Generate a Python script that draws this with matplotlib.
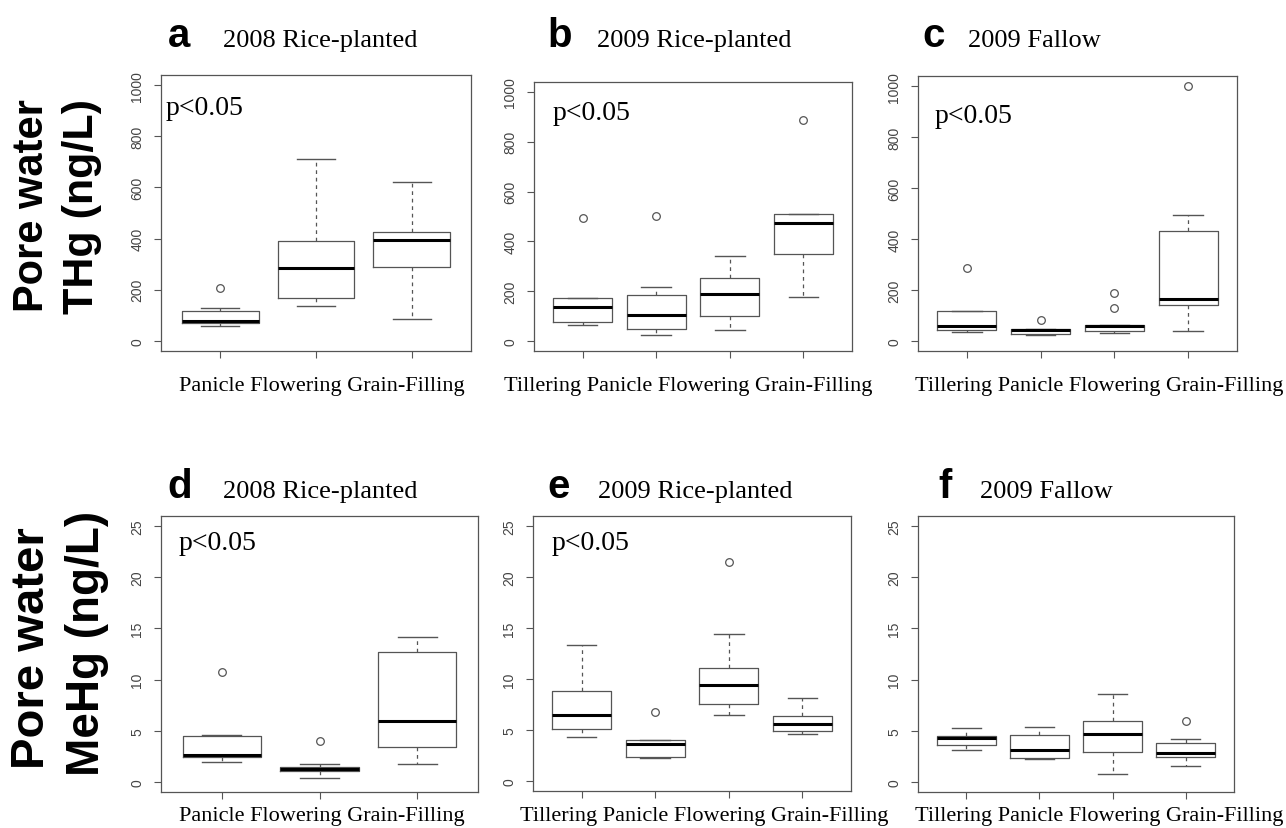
import matplotlib.pyplot as plt

W, H = 1286, 829

stages3 = ['Panicle', 'Flowering', 'Grain-Filling']
stages4 = ['Tillering', 'Panicle', 'Flowering', 'Grain-Filling']

# pore water THg (ng/L)
a_lo = [56, 137, 85]
a_q1 = [69, 167, 288]
a_med = [78, 286, 395]
a_q3 = [118, 392, 427]
a_hi = [130, 710, 620]
a_out = [[206], [], []]

b_lo = [66, 24, 43, 176]
b_q1 = [78, 47, 99, 350]
b_med = [138, 105, 188, 475]
b_q3 = [173, 184, 255, 509]
b_hi = [173, 215, 340, 509]
b_out = [[494], [501], [], [886]]

c_lo = [35, 21, 29, 38]
c_q1 = [43, 27, 40, 141]
c_med = [60, 43, 60, 164]
c_q3 = [116, 48, 62, 431]
c_hi = [116, 48, 62, 496]
c_out = [[286], [82], [130, 188], [1000]]

# pore water MeHg (ng/L)
d_lo = [1.95, 0.36, 1.76]
d_q1 = [2.38, 1.04, 3.45]
d_med = [2.64, 1.24, 5.92]
d_q3 = [4.49, 1.40, 12.73]
d_hi = [4.62, 1.73, 14.16]
d_out = [[10.74], [3.97], []]

e_lo = [4.33, 2.28, 6.51, 4.59]
e_q1 = [5.05, 2.31, 7.58, 4.88]
e_med = [6.51, 3.58, 9.38, 5.53]
e_q3 = [8.82, 4.00, 11.10, 6.35]
e_hi = [13.38, 4.00, 14.45, 8.14]
e_out = [[], [6.71], [21.52], []]

f_lo = [3.09, 2.21, 0.75, 1.56]
f_q1 = [3.61, 2.34, 2.93, 2.44]
f_med = [4.30, 3.09, 4.66, 2.86]
f_q3 = [4.46, 4.56, 5.96, 3.78]
f_hi = [5.24, 5.31, 8.63, 4.23]
f_out = [[], [], [], [5.99]]

serif = 'Liberation Serif'
sans = 'Liberation Sans'


def make_stats(lo, q1, med, q3, hi, out):
    return [dict(whislo=lo[i], q1=q1[i], med=med[i], q3=q3[i], whishi=hi[i], fliers=out[i])
            for i in range(len(lo))]


def frac(x, y):
    return x / W, 1 - y / H


fig = plt.figure(figsize=(W / 100, H / 100), dpi=100)

# pixel boxes: left, right, top, bottom
panels = [
    ('a', '2008 Rice-planted', (161, 471, 76, 352), stages3, make_stats(a_lo, a_q1, a_med, a_q3, a_hi, a_out),
     1000, (168, 223, 47), (0.016, 0.859), 322, 387),
    ('b', '2009 Rice-planted', (534, 852, 83, 352), stages4, make_stats(b_lo, b_q1, b_med, b_q3, b_hi, b_out),
     1000, (547, 597, 47), (0.057, 0.862), 688, 387),
    ('c', '2009 Fallow', (918, 1237, 77, 352), stages4, make_stats(c_lo, c_q1, c_med, c_q3, c_hi, c_out),
     1000, (922, 968, 47), (0.053, 0.833), 1099, 387),
    ('d', '2008 Rice-planted', (161, 478, 517, 793), stages3, make_stats(d_lo, d_q1, d_med, d_q3, d_hi, d_out),
     25, (167, 223, 498), (0.054, 0.88), 322, 817),
    ('e', '2009 Rice-planted', (533, 851, 517, 792), stages4, make_stats(e_lo, e_q1, e_med, e_q3, e_hi, e_out),
     25, (547, 598, 498), (0.06, 0.88), 704, 817),
    ('f', '2009 Fallow', (918, 1234, 517, 793), stages4, make_stats(f_lo, f_q1, f_med, f_q3, f_hi, f_out),
     25, (938, 980, 498), None, 1099, 817),
]

grey = '#555555'

for letter, title, (l, r, t, b), stages, stats, ymax, (lx, tx, base), ptxt, xc, yl in panels:
    ax = fig.add_axes([l / W, 1 - b / H, (r - l) / W, (b - t) / H])
    n = len(stages)
    pos = list(range(1, n + 1))
    ax.bxp(stats, positions=pos, widths=0.8, capwidths=0.4, showfliers=True,
           boxprops=dict(color=grey, linewidth=0.9),
           medianprops=dict(color='black', linewidth=2.2, solid_capstyle='butt'),
           whiskerprops=dict(color=grey, linewidth=0.9, linestyle=(0, (3, 3))),
           capprops=dict(color=grey, linewidth=1.0),
           flierprops=dict(marker='o', markersize=5.5, markerfacecolor='none',
                           markeredgecolor=grey, markeredgewidth=0.9))
    pad = 0.04 * n
    ax.set_xlim(0.5 - pad, n + 0.5 + pad)
    ax.set_ylim(-0.04 * ymax, 1.04 * ymax)
    step = ymax // 5
    ax.set_yticks(range(0, ymax + 1, step))
    ax.set_xticks(pos)
    ax.set_xticklabels([''] * n)
    for lab in ax.get_yticklabels():
        lab.set_rotation(90)
        lab.set_va('center')
        lab.set_family(sans)
        lab.set_fontsize(10)
        lab.set_color('#444444')
    ax.tick_params(axis='both', length=5, width=0.8, color=grey, pad=7)
    for sp in ax.spines.values():
        sp.set_color(grey)
        sp.set_linewidth(0.9)

    if ptxt is not None:
        ax.text(ptxt[0], ptxt[1], 'p<0.05', transform=ax.transAxes, family=serif,
                fontsize=20, va='baseline', ha='left')

    fig.text(*frac(lx, base), letter, family=sans, fontweight='bold', fontsize=29,
             va='baseline', ha='left')
    fig.text(*frac(tx, base), title, family=serif, fontsize=19, va='baseline', ha='left')
    fig.text(*frac(xc, yl), ' '.join(stages), family=serif, fontsize=16,
             va='center', ha='center')

# row labels
fig.text(*frac(32, 206), 'Pore water', family=sans, fontweight='bold', fontsize=30,
         rotation=90, ha='center', va='center')
fig.text(*frac(82, 206), 'THg (ng/L)', family=sans, fontweight='bold', fontsize=31,
         rotation=90, ha='center', va='center')
fig.text(*frac(32, 648), 'Pore water', family=sans, fontweight='bold', fontsize=34,
         rotation=90, ha='center', va='center')
fig.text(*frac(87, 643), 'MeHg (ng/L)', family=sans, fontweight='bold', fontsize=33,
         rotation=90, ha='center', va='center')

fig.savefig('out.png', dpi=100)
